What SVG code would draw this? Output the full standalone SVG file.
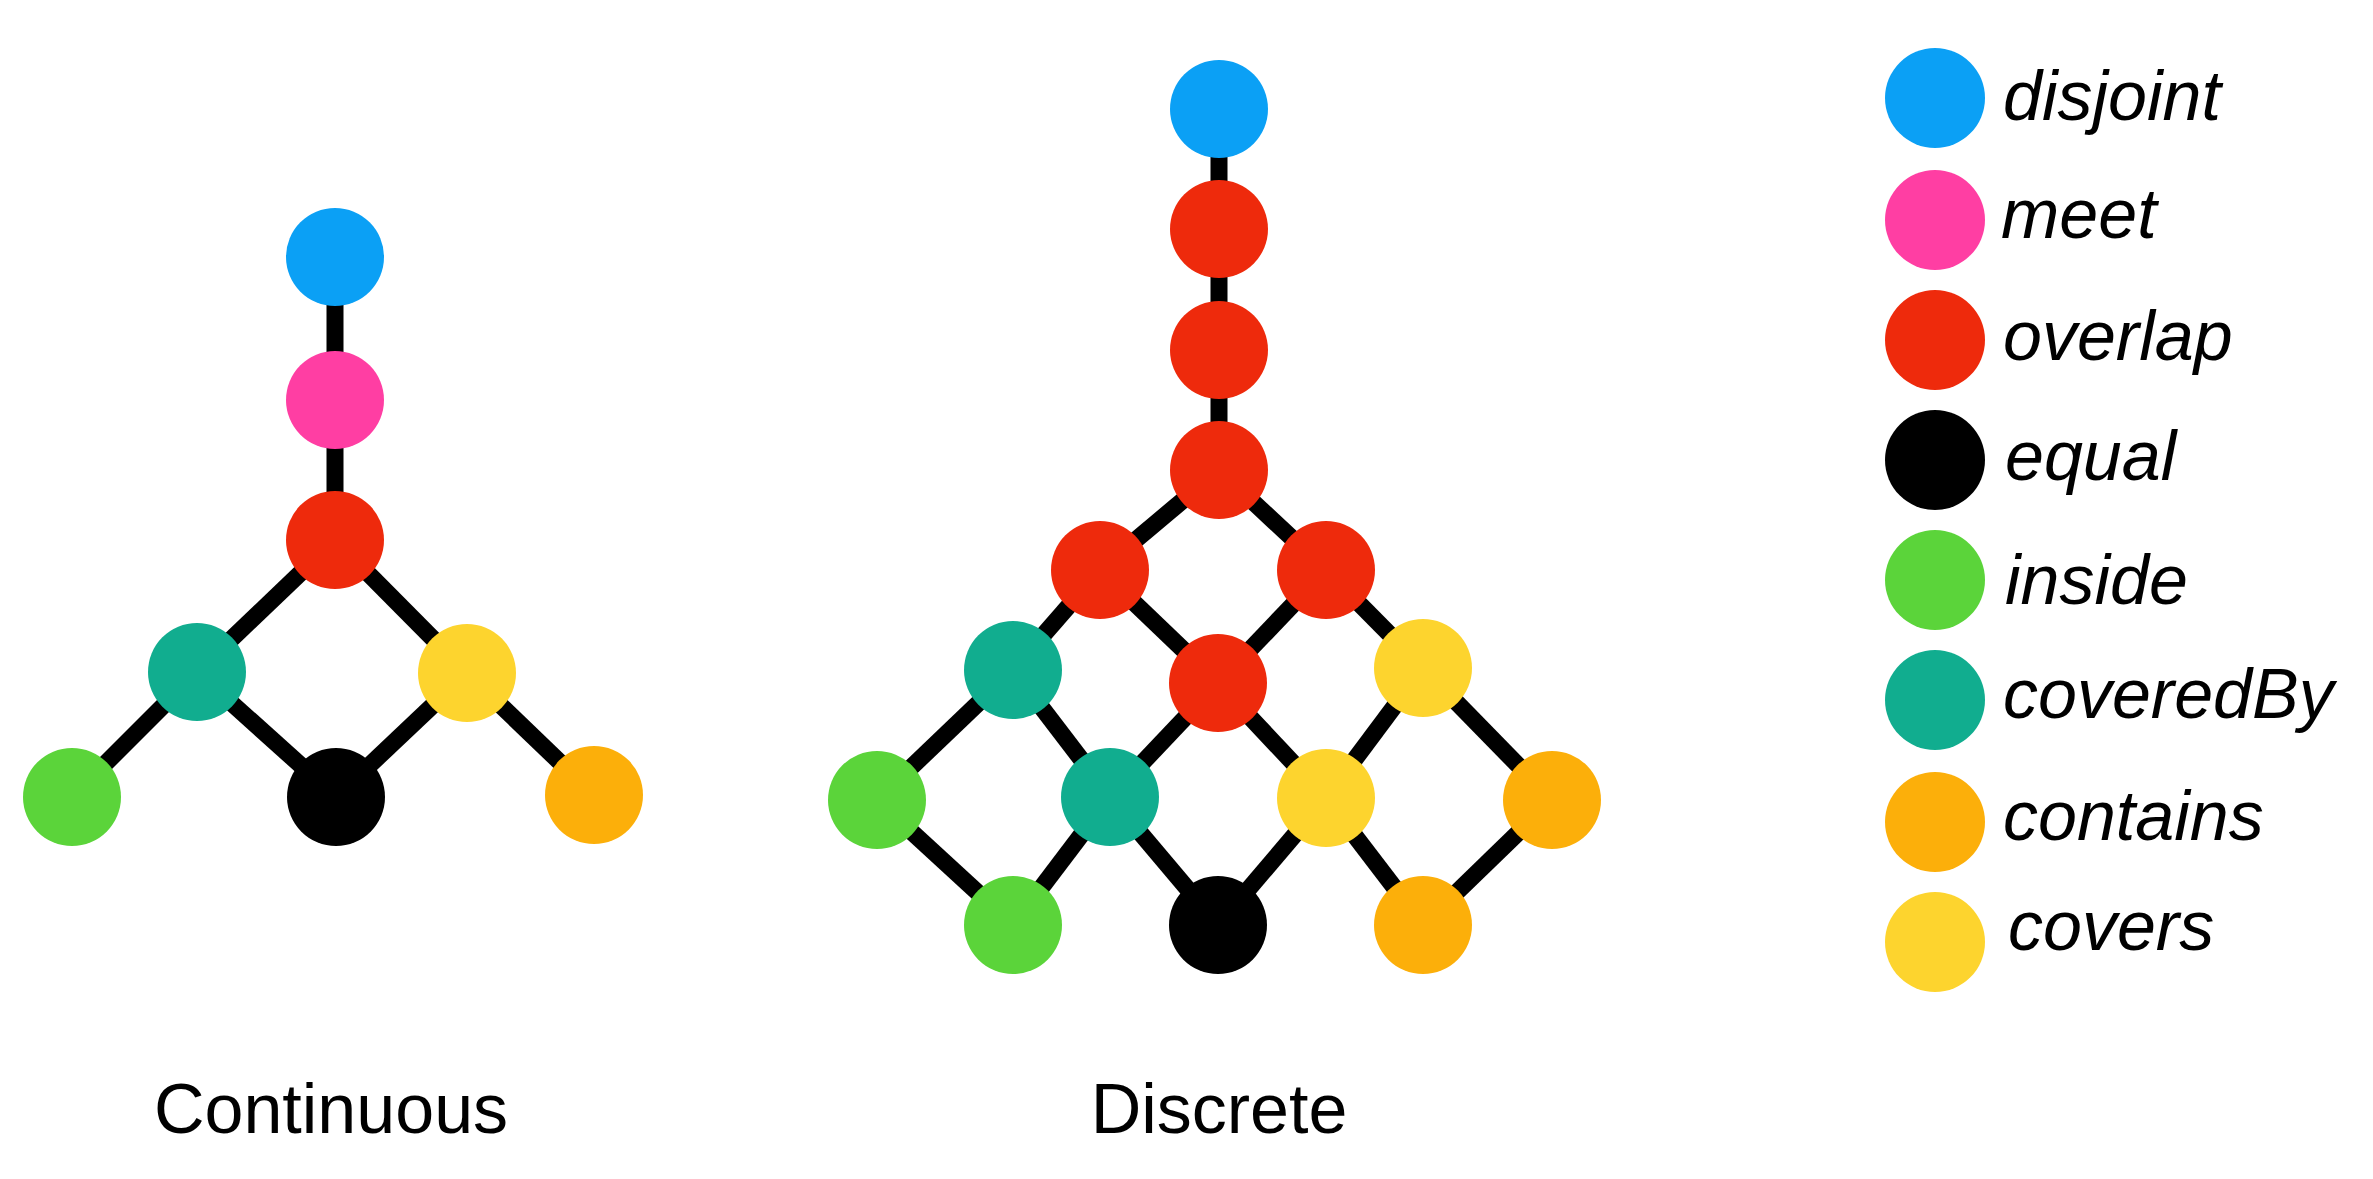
<svg xmlns="http://www.w3.org/2000/svg" width="2373" height="1179" viewBox="0 0 2373 1179">
<style>
.e{stroke:#000;stroke-width:17;fill:none}
.n{stroke:none}
.disjoint{fill:#0BA0F5}
.meet{fill:#FF3EA3}
.overlap{fill:#EE2A0C}
.equal{fill:#000}
.inside{fill:#5BD43A}
.coveredBy{fill:#11AD8F}
.contains{fill:#FCAF0A}
.covers{fill:#FDD42E}
.lt{font-family:"Liberation Sans",Arial,sans-serif;font-style:italic;font-size:70px;fill:#000}
.tt{font-family:"Liberation Sans",Arial,sans-serif;font-size:70px;fill:#000;text-anchor:middle}
</style>
<rect width="2373" height="1179" fill="#fff"/>
<g id="connectors">
<line class="e" x1="335" y1="257" x2="335" y2="400"/>
<line class="e" x1="335" y1="400" x2="335" y2="540"/>
<line class="e" x1="335" y1="540" x2="197" y2="672"/>
<line class="e" x1="335" y1="540" x2="467" y2="673"/>
<line class="e" x1="197" y1="672" x2="72" y2="797"/>
<line class="e" x1="197" y1="672" x2="336" y2="797"/>
<line class="e" x1="467" y1="673" x2="336" y2="797"/>
<line class="e" x1="467" y1="673" x2="594" y2="795"/>
<line class="e" x1="1219" y1="109" x2="1219" y2="229"/>
<line class="e" x1="1219" y1="229" x2="1219" y2="350"/>
<line class="e" x1="1219" y1="350" x2="1219" y2="470"/>
<line class="e" x1="1219" y1="470" x2="1100" y2="570"/>
<line class="e" x1="1219" y1="470" x2="1326" y2="570"/>
<line class="e" x1="1100" y1="570" x2="1013" y2="670"/>
<line class="e" x1="1100" y1="570" x2="1218" y2="683"/>
<line class="e" x1="1326" y1="570" x2="1218" y2="683"/>
<line class="e" x1="1326" y1="570" x2="1423" y2="668"/>
<line class="e" x1="1013" y1="670" x2="877" y2="800"/>
<line class="e" x1="1013" y1="670" x2="1110" y2="797"/>
<line class="e" x1="1218" y1="683" x2="1110" y2="797"/>
<line class="e" x1="1218" y1="683" x2="1326" y2="798"/>
<line class="e" x1="1423" y1="668" x2="1326" y2="798"/>
<line class="e" x1="1423" y1="668" x2="1552" y2="800"/>
<line class="e" x1="877" y1="800" x2="1013" y2="925"/>
<line class="e" x1="1110" y1="797" x2="1013" y2="925"/>
<line class="e" x1="1110" y1="797" x2="1218" y2="925"/>
<line class="e" x1="1326" y1="798" x2="1218" y2="925"/>
<line class="e" x1="1326" y1="798" x2="1423" y2="925"/>
<line class="e" x1="1552" y1="800" x2="1423" y2="925"/>
</g>
<g id="continuous">
<g id="c-disjoint"><circle class="n disjoint" cx="335" cy="257" r="49"/></g>
<g id="c-meet"><circle class="n meet" cx="335" cy="400" r="49"/></g>
<g id="c-overlap"><circle class="n overlap" cx="335" cy="540" r="49"/></g>
<g id="c-coveredBy"><circle class="n coveredBy" cx="197" cy="672" r="49"/></g>
<g id="c-covers"><circle class="n covers" cx="467" cy="673" r="49"/></g>
<g id="c-inside"><circle class="n inside" cx="72" cy="797" r="49"/></g>
<g id="c-equal"><circle class="n equal" cx="336" cy="797" r="49"/></g>
<g id="c-contains"><circle class="n contains" cx="594" cy="795" r="49"/></g>
<text id="label-continuous" class="tt" x="331" y="1133">Continuous</text>
</g>
<g id="discrete">
<g id="d-disjoint"><circle class="n disjoint" cx="1219" cy="109" r="49"/></g>
<g id="d-overlap1"><circle class="n overlap" cx="1219" cy="229" r="49"/></g>
<g id="d-overlap2"><circle class="n overlap" cx="1219" cy="350" r="49"/></g>
<g id="d-overlap3"><circle class="n overlap" cx="1219" cy="470" r="49"/></g>
<g id="d-overlap4"><circle class="n overlap" cx="1100" cy="570" r="49"/></g>
<g id="d-overlap5"><circle class="n overlap" cx="1326" cy="570" r="49"/></g>
<g id="d-coveredBy1"><circle class="n coveredBy" cx="1013" cy="670" r="49"/></g>
<g id="d-overlap6"><circle class="n overlap" cx="1218" cy="683" r="49"/></g>
<g id="d-covers1"><circle class="n covers" cx="1423" cy="668" r="49"/></g>
<g id="d-inside1"><circle class="n inside" cx="877" cy="800" r="49"/></g>
<g id="d-coveredBy2"><circle class="n coveredBy" cx="1110" cy="797" r="49"/></g>
<g id="d-covers2"><circle class="n covers" cx="1326" cy="798" r="49"/></g>
<g id="d-contains1"><circle class="n contains" cx="1552" cy="800" r="49"/></g>
<g id="d-inside2"><circle class="n inside" cx="1013" cy="925" r="49"/></g>
<g id="d-equal"><circle class="n equal" cx="1218" cy="925" r="49"/></g>
<g id="d-contains2"><circle class="n contains" cx="1423" cy="925" r="49"/></g>
<text id="label-discrete" class="tt" x="1219" y="1133">Discrete</text>
</g>
<g id="legend">
<g id="l-disjoint"><circle class="n disjoint" cx="1935" cy="98" r="50"/><text class="lt" x="2003" y="120">disjoint</text></g>
<g id="l-meet"><circle class="n meet" cx="1935" cy="220" r="50"/><text class="lt" x="2001" y="238">meet</text></g>
<g id="l-overlap"><circle class="n overlap" cx="1935" cy="340" r="50"/><text class="lt" x="2003" y="360">overlap</text></g>
<g id="l-equal"><circle class="n equal" cx="1935" cy="460" r="50"/><text class="lt" x="2005" y="480">equal</text></g>
<g id="l-inside"><circle class="n inside" cx="1935" cy="580" r="50"/><text class="lt" x="2005" y="604">inside</text></g>
<g id="l-coveredBy"><circle class="n coveredBy" cx="1935" cy="700" r="50"/><text class="lt" x="2003" y="718">coveredBy</text></g>
<g id="l-contains"><circle class="n contains" cx="1935" cy="822" r="50"/><text class="lt" x="2003" y="840">contains</text></g>
<g id="l-covers"><circle class="n covers" cx="1935" cy="942" r="50"/><text class="lt" x="2008" y="950">covers</text></g>
</g>
</svg>
